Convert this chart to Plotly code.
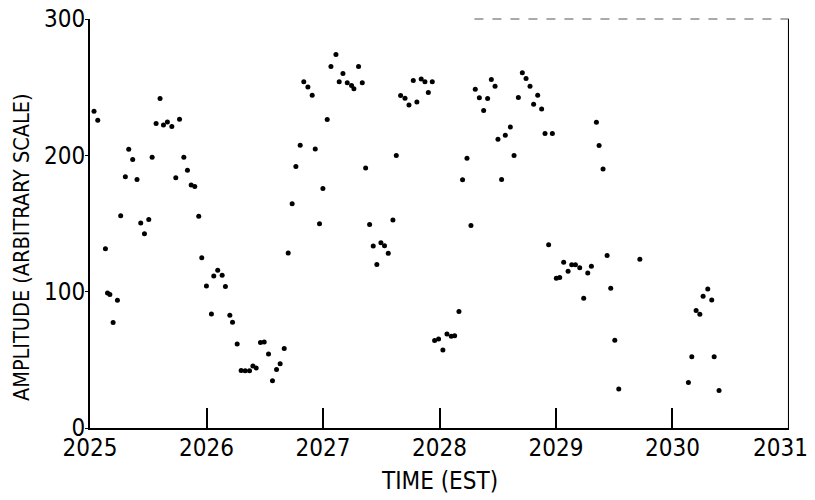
import plotly.graph_objects as go

time_years = [
    2025.034, 2025.066, 2025.132, 2025.150, 2025.170, 2025.198, 2025.235, 2025.263,
    2025.303, 2025.332, 2025.366, 2025.403, 2025.435, 2025.467, 2025.504, 2025.533,
    2025.567, 2025.601, 2025.630, 2025.664, 2025.702, 2025.736, 2025.768, 2025.805,
    2025.836, 2025.868, 2025.899, 2025.933, 2025.959, 2025.999, 2026.042, 2026.062,
    2026.096, 2026.134, 2026.162, 2026.200, 2026.223, 2026.263, 2026.297, 2026.332,
    2026.369, 2026.398, 2026.426, 2026.463, 2026.495, 2026.532, 2026.566, 2026.601,
    2026.632, 2026.667, 2026.701, 2026.735, 2026.767, 2026.804, 2026.835, 2026.870,
    2026.907, 2026.933, 2026.970, 2026.999, 2027.036, 2027.068, 2027.111, 2027.139,
    2027.171, 2027.208, 2027.245, 2027.265, 2027.305, 2027.337, 2027.366, 2027.400,
    2027.431, 2027.462, 2027.497, 2027.528, 2027.560, 2027.600, 2027.629, 2027.666,
    2027.704, 2027.738, 2027.775, 2027.806, 2027.843, 2027.875, 2027.904, 2027.938,
    2027.958, 2027.992, 2028.029, 2028.064, 2028.101, 2028.130, 2028.167, 2028.198,
    2028.236, 2028.270, 2028.307, 2028.342, 2028.379, 2028.413, 2028.445, 2028.477,
    2028.502, 2028.533, 2028.565, 2028.608, 2028.640, 2028.677, 2028.711, 2028.743,
    2028.777, 2028.808, 2028.843, 2028.877, 2028.906, 2028.937, 2028.969, 2029.003,
    2029.032, 2029.066, 2029.104, 2029.135, 2029.167, 2029.204, 2029.238, 2029.273,
    2029.304, 2029.347, 2029.370, 2029.404, 2029.439, 2029.470, 2029.505, 2029.539,
    2029.720, 2030.137, 2030.166, 2030.203, 2030.235, 2030.263, 2030.303, 2030.337,
    2030.358, 2030.400,
]

amplitude = [
    232.3, 225.7, 131.5, 99.0, 98.0, 77.3, 93.7, 155.6,
    184.2, 204.5, 196.9, 182.3, 150.3, 142.5, 153.0, 198.6,
    223.3, 241.6, 222.3, 224.5, 221.1, 183.5, 226.4, 198.6,
    189.1, 178.3, 177.2, 155.4, 124.9, 104.2, 83.7, 111.5,
    115.7, 112.0, 103.7, 82.7, 77.6, 61.7, 42.2, 42.0,
    42.0, 45.4, 44.1, 62.7, 63.0, 54.2, 34.6, 42.9,
    47.1, 58.3, 128.3, 164.4, 191.8, 207.4, 254.0, 250.1,
    244.0, 204.7, 149.8, 175.7, 226.2, 265.2, 274.0, 254.0,
    260.1, 253.3, 251.3, 248.9, 265.2, 253.3, 190.8, 149.3,
    133.5, 120.0, 135.9, 133.7, 128.1, 152.5, 199.9, 243.8,
    241.8, 236.9, 254.8, 239.1, 255.9, 254.0, 246.0, 254.0,
    64.1, 65.2, 57.3, 69.0, 67.3, 67.6, 85.4, 182.0,
    197.9, 148.6, 248.4, 242.3, 232.8, 241.6, 255.7, 250.6,
    211.8, 182.3, 214.7, 220.8, 199.9, 242.5, 260.6, 256.4,
    250.6, 237.4, 244.0, 234.0, 216.0, 134.4, 216.0, 109.8,
    110.3, 121.5, 114.9, 119.8, 119.8, 117.6, 95.2, 113.7,
    118.6, 224.2, 207.2, 190.0, 126.6, 102.5, 64.4, 28.6,
    123.7, 33.4, 52.2, 86.1, 83.5, 96.6, 102.0, 93.9,
    52.2, 27.5,
]

x_ticks = [2025, 2026, 2027, 2028, 2029, 2030, 2031]
x_tick_labels = ["2025", "2026", "2027", "2028", "2029", "2030", "2031"]
y_ticks = [0, 100, 200, 300]
y_tick_labels = ["0", "100", "200", "300"]
x_title = "TIME (EST)"
y_title = "AMPLITUDE (ARBITRARY SCALE)"

FONT = "DejaVu Sans Condensed, Liberation Sans Narrow, sans-serif"

fig = go.Figure()
fig.add_trace(go.Scatter(
    x=time_years, y=amplitude, mode="markers",
    marker=dict(color="black", size=5),
    showlegend=False,
))

# the last year label sits at the very right edge: drawn right-aligned so it stays in the page
edge_labels = x_tick_labels[:-1] + [""]

fig.update_layout(
    width=815, height=500,
    margin=dict(l=90, r=26, t=19, b=72),
    paper_bgcolor="white", plot_bgcolor="white",
    font=dict(family=FONT, color="black", size=22),
    xaxis=dict(
        range=[2024.9995, 2031.0005], tickvals=x_ticks, ticktext=edge_labels,
        showgrid=False, zeroline=False, automargin=False,
        showline=True, linecolor="black", linewidth=2,
        ticks="inside", ticklen=20, tickwidth=2, tickcolor="black",
        tickfont=dict(size=24, family=FONT),
        ticklabeloverflow="allow", ticklabelstandoff=-3,
    ),
    yaxis=dict(
        range=[0, 300], tickvals=y_ticks, ticktext=y_tick_labels,
        showgrid=False, zeroline=False, automargin=False,
        showline=True, linecolor="black", linewidth=2, mirror=False,
        ticks="outside", ticklen=3, tickwidth=1, tickcolor="black",
        tickfont=dict(size=24, family=FONT),
        ticklabeloverflow="allow", ticklabelstandoff=-5,
    ),
    annotations=[
        dict(text=x_tick_labels[-1], xref="x", yref="paper", x=x_ticks[-1], y=0,
             xanchor="right", yanchor="top", xshift=21, yshift=-4, showarrow=False,
             font=dict(size=24, family=FONT, color="black")),
        dict(text=x_title, xref="paper", yref="paper", x=0.4993, y=-0.1308,
             xanchor="center", yanchor="middle", showarrow=False,
             font=dict(size=24, family=FONT, color="black")),
        dict(text=y_title, xref="paper", yref="paper", x=-0.0987, y=0.4425,
             xanchor="center", yanchor="middle", showarrow=False, textangle=-90,
             font=dict(size=21.5, family=FONT, color="black")),
    ],
)

# right border of the frame
fig.add_shape(type="line", xref="x", yref="paper", x0=2031, x1=2031, y0=0, y1=1,
              line=dict(color="black", width=2))
# faint broken top border
fig.add_shape(type="line", xref="x", yref="paper", x0=2028.3, x1=2031, y0=1, y1=1,
              line=dict(color="#555", width=1, dash="dash"))

fig.write_html("out.html", config={"displayModeBar": False},
               post_script="document.body.style.margin='0';")
